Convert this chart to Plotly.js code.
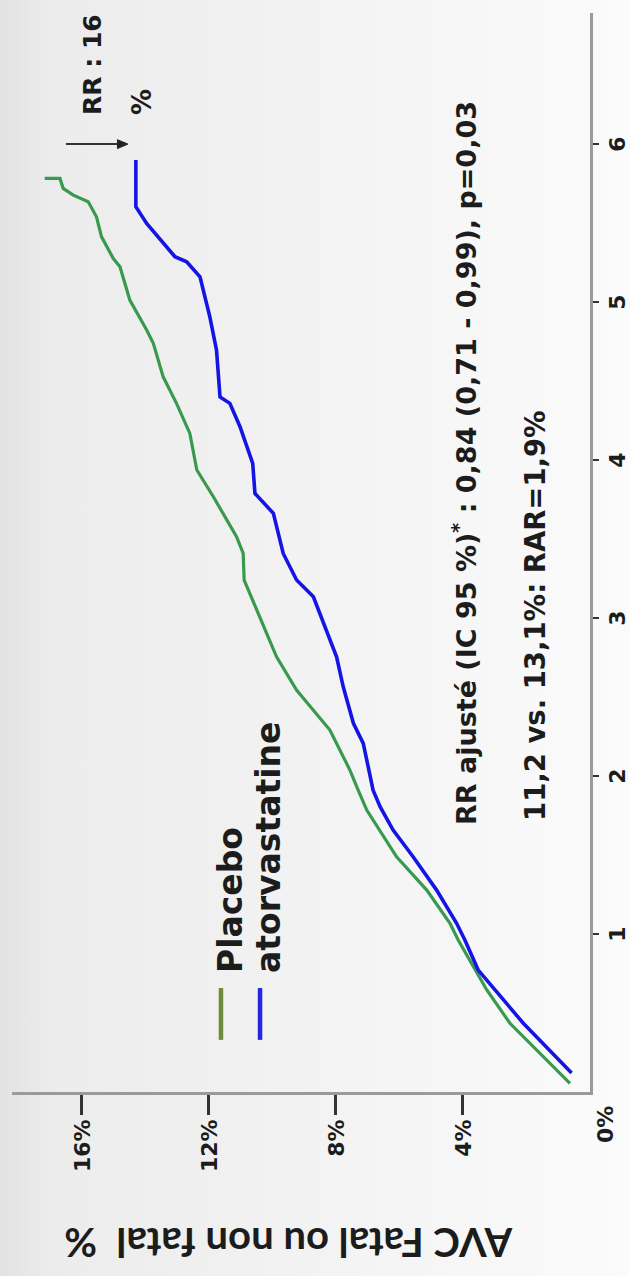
<!DOCTYPE html>
<html>
<head>
<meta charset="utf-8">
<script src="https://cdn.plot.ly/plotly-3.0.1.min.js"></script>
<style>
html, body { margin:0; padding:0; width:630px; height:1276px; overflow:hidden; }
body { background: linear-gradient(to right, #e2e2e2 0%, #ececec 8%, #f1f1f1 40%, #f7f7f7 75%, #fbfbfb 100%); }
#wrap { position:absolute; left:0; top:0; width:1276px; height:630px;
        transform-origin:0 0; transform: translateY(1276px) rotate(-90deg); }
</style>
</head>
<body>
<div id="wrap"><div id="chart"></div></div>
<script>
// ---- data (years of follow-up vs cumulative % of fatal / non-fatal stroke) ----
const placeboYears = [0.055,0.118,0.224,0.435,0.646,0.772,0.962,1.068,1.278,1.489,1.658,1.785,1.911,2.038,2.291,2.418,2.544,2.755,3.008,3.24,3.41,3.515,3.768,3.937,4.169,4.359,4.527,4.739,4.823,5.013,5.224,5.276,5.413,5.54,5.635,5.677,5.72,5.783,5.783];
const placeboPct   = [0.63,0.94,1.47,2.52,3.25,3.62,4.15,4.41,5.14,6.09,6.61,7.03,7.30,7.56,8.19,8.71,9.24,9.87,10.39,10.89,10.92,11.13,11.86,12.38,12.60,13.02,13.44,13.75,13.96,14.49,14.80,15.01,15.38,15.54,15.80,16.27,16.59,16.69,17.17];

const atorvaYears = [0.12,0.224,0.435,0.646,0.772,0.962,1.068,1.278,1.489,1.658,1.806,1.911,2.207,2.334,2.565,2.755,2.966,3.135,3.241,3.409,3.663,3.789,3.979,4.211,4.359,4.40,4.696,4.907,5.160,5.255,5.287,5.403,5.498,5.603,5.899];
const atorvaPct   = [0.58,1.08,2.10,2.99,3.52,3.94,4.20,4.83,5.57,6.20,6.61,6.83,7.14,7.45,7.77,7.98,8.40,8.71,9.24,9.66,9.97,10.55,10.62,11.02,11.34,11.65,11.76,11.97,12.28,12.70,13.07,13.54,13.96,14.30,14.30];

const seriesNames = ['Placebo', 'atorvastatine'];
const yearTicks  = [1, 2, 3, 4, 5, 6];
const yearLabels = ['1', '2', '3', '4', '5', '6'];
const pctTicks   = [4, 8, 12, 16];
const pctLabels  = ['4%', '8%', '12%', '16%'];
const zeroLabel  = '0%';
const axisTitle  = 'AVC Fatal ou non fatal \u00a0%';
const statLine1  = 'RR ajusté (IC 95 %)<sup>*</sup> : 0,84 (0,71 - 0,99), p=0,03';
const statLine2  = '11,2 vs. 13,1%: RAR=1,9%';
const rrLine1    = 'RR : 16';
const rrLine2    = '%';

// ---- styles ----
const GREEN = '#379a4c', BLUE = '#1414e4';
const LEG_GREEN = '#6e8c3c', LEG_BLUE = '#2626e0';
const TXT = '#1c1c1c';
const F = 'DejaVu Sans, Verdana, sans-serif';

const traces = [
  { x: placeboYears, y: placeboPct, name: seriesNames[0], type: 'scatter', mode: 'lines',
    line: { color: GREEN, width: 3.2 } },
  { x: atorvaYears, y: atorvaPct, name: seriesNames[1], type: 'scatter', mode: 'lines',
    line: { color: BLUE, width: 3.6 } }
];

const tf = (size) => ({ family: F, size: size, color: TXT, weight: 700 });

const layout = {
  width: 1276, height: 630,
  margin: { l: 184, r: 13, t: 12, b: 40 },
  paper_bgcolor: 'rgba(0,0,0,0)', plot_bgcolor: 'rgba(0,0,0,0)',
  showlegend: false,
  xaxis: {
    range: [0, 6.83], tickmode: 'array', tickvals: yearTicks, ticktext: yearLabels,
    ticks: 'outside', ticklen: 6, tickwidth: 2, tickcolor: '#333',
    showline: true, linecolor: '#9a9a9a', linewidth: 3,
    showgrid: false, zeroline: false, tickfont: tf(22), fixedrange: true
  },
  yaxis: {
    range: [0, 18.2], tickmode: 'array', tickvals: pctTicks, ticktext: pctLabels,
    ticks: 'outside', ticklen: 20, tickwidth: 3, tickcolor: '#333',
    showline: true, linecolor: '#9a9a9a', linewidth: 3,
    showgrid: false, zeroline: false, tickfont: tf(22), fixedrange: true
  },
  shapes: [
    // legend keys
    { type: 'line', xref: 'x', yref: 'y', x0: 0.33, x1: 0.658, y0: 11.62, y1: 11.62,
      line: { color: LEG_GREEN, width: 4.5 } },
    { type: 'line', xref: 'x', yref: 'y', x0: 0.33, x1: 0.658, y0: 10.39, y1: 10.39,
      line: { color: LEG_BLUE, width: 4.5 } },
    // arrow towards the end of the atorvastatine curve
    { type: 'line', xref: 'x', yref: 'y', x0: 6.0, x1: 6.0, y0: 16.5, y1: 14.85,
      line: { color: '#333', width: 2 } },
    { type: 'path', xref: 'x', yref: 'y', path: 'M 5.972 14.88 L 6.028 14.88 L 6.0 14.55 Z',
      fillcolor: '#222', line: { color: '#222', width: 1 } }
  ],
  annotations: [
    { text: seriesNames[0], xref: 'x', yref: 'y', x: 0.74, y: 11.32, xanchor: 'left', yanchor: 'middle',
      showarrow: false, font: tf(33) },
    { text: seriesNames[1], xref: 'x', yref: 'y', x: 0.74, y: 10.13, xanchor: 'left', yanchor: 'middle',
      showarrow: false, font: tf(33) },
    { text: statLine1, xref: 'x', yref: 'y', x: 1.677, y: 3.94, xanchor: 'left', yanchor: 'middle',
      showarrow: false, font: tf(27) },
    { text: statLine2, xref: 'x', yref: 'y', x: 1.70, y: 1.73, xanchor: 'left', yanchor: 'middle',
      showarrow: false, font: tf(27.5) },
    { text: rrLine1, xref: 'x', yref: 'y', x: 6.17, y: 15.65, xanchor: 'left', yanchor: 'middle',
      showarrow: false, font: tf(25) },
    { text: rrLine2, xref: 'x', yref: 'y', x: 6.17, y: 14.1, xanchor: 'left', yanchor: 'middle',
      showarrow: false, font: tf(26) },
    { text: zeroLabel, xref: 'paper', yref: 'paper', x: 0, y: -0.026, xanchor: 'right', yanchor: 'middle',
      xshift: -12, showarrow: false, font: tf(22) },
    { text: axisTitle, xref: 'paper', yref: 'paper', x: -0.140, y: 0.522, xanchor: 'center', yanchor: 'middle',
      textangle: -90, showarrow: false, font: { family: 'Lato, sans-serif', size: 40, color: TXT, weight: 700 } }
  ]
};

Plotly.newPlot('chart', traces, layout, { staticPlot: true, displayModeBar: false });
</script>
</body>
</html>
